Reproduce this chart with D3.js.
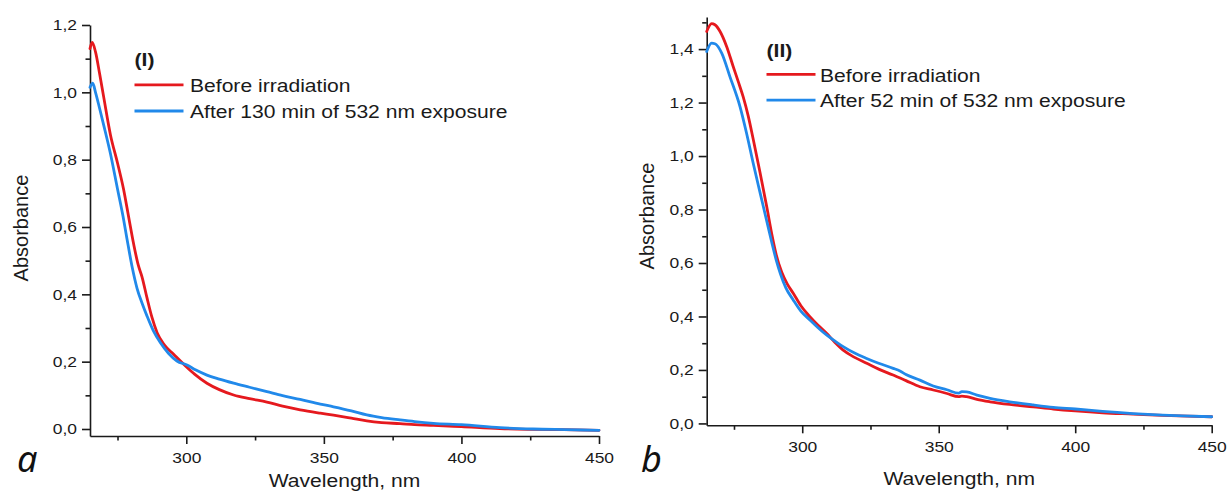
<!DOCTYPE html>
<html>
<head>
<meta charset="utf-8">
<script src="https://cdn.jsdelivr.net/npm/d3@7"></script>
<style>
  html, body { margin: 0; padding: 0; background: #fff; }
  svg { display: block; font-family: "Liberation Sans", Arial, sans-serif; }
</style>
</head>
<body>
<svg id="chart" width="1228" height="494"></svg>
<script>
// ---------- DATA ----------
const xMajorTicks = [300, 350, 400, 450];
const xMinorTicks = [275, 325, 375, 425];
const yMajorTicksI = [0, 0.2, 0.4, 0.6, 0.8, 1.0, 1.2];
const yMinorTicksI = [0.1, 0.3, 0.5, 0.7, 0.9, 1.1];
const yMajorTicksII = [0, 0.2, 0.4, 0.6, 0.8, 1.0, 1.2, 1.4];
const yMinorTicksII = [0.1, 0.3, 0.5, 0.7, 0.9, 1.1, 1.3, 1.5];

const legendI = ["Before irradiation", "After 130 min of 532 nm exposure"];
const legendII = ["Before irradiation", "After 52 min of 532 nm exposure"];

// Panel (I) – before irradiation (red)
const wlI_before = [265, 265.8, 267, 268.5, 270, 272.4, 275, 277.2, 279, 280.9, 282.5, 283.9, 285.7, 287.5, 289.4, 292, 295.4, 300, 303, 307.5, 312, 317.2, 323, 329.3, 335, 341.4, 348.7, 353.5, 360, 365.6, 371, 377.7, 383, 389.8, 400, 414, 425, 437, 450];
const absI_before = [1.13, 1.148, 1.12, 1.055, 0.985, 0.875, 0.79, 0.712, 0.632, 0.548, 0.488, 0.452, 0.39, 0.332, 0.286, 0.25, 0.222, 0.185, 0.163, 0.136, 0.117, 0.101, 0.09, 0.08, 0.068, 0.057, 0.047, 0.041, 0.032, 0.024, 0.019, 0.016, 0.013, 0.011, 0.007, 0.001, -0.001, -0.002, -0.004];
// Panel (I) – after 130 min (blue)
const wlI_after = [265, 266, 267, 268.5, 270, 272.4, 275, 277, 278.5, 280.3, 282.1, 284, 285.7, 288, 290.6, 293.5, 296.6, 300.25, 303.5, 307.5, 312, 317.2, 323, 329.3, 335, 341.4, 348.7, 353.5, 360, 365.6, 371, 377.7, 383, 389.8, 400, 414, 426, 438, 450];
const absI_after = [1.015, 1.027, 1.0, 0.952, 0.902, 0.819, 0.713, 0.632, 0.562, 0.482, 0.418, 0.372, 0.336, 0.292, 0.256, 0.225, 0.202, 0.19, 0.175, 0.16, 0.148, 0.136, 0.124, 0.111, 0.099, 0.088, 0.074, 0.066, 0.054, 0.042, 0.034, 0.027, 0.022, 0.017, 0.013, 0.004, 0.0, -0.002, -0.004];

// Panel (II) – before irradiation (red)
const wlII_before = [265, 266.8, 268, 269.9, 272.3, 274.7, 276.5, 278.4, 280.2, 282.1, 284.5, 287, 289, 290.5, 292.5, 294.5, 296.7, 299.5, 302.8, 305.8, 308.9, 312, 315, 319, 323.6, 328, 333.3, 338, 343.1, 348, 353, 357.3, 358.5, 360.2, 364, 368.8, 376, 384.6, 392, 400, 410, 421.2, 432, 441, 450];
const absII_before = [1.466, 1.495, 1.491, 1.466, 1.41, 1.335, 1.28, 1.22, 1.15, 1.06, 0.94, 0.81, 0.70, 0.63, 0.565, 0.522, 0.487, 0.44, 0.399, 0.367, 0.337, 0.303, 0.274, 0.248, 0.225, 0.203, 0.181, 0.16, 0.137, 0.125, 0.112, 0.1, 0.102, 0.1, 0.09, 0.081, 0.071, 0.062, 0.054, 0.047, 0.04, 0.035, 0.03, 0.027, 0.025];
// Panel (II) – after 52 min (blue)
const wlII_after = [265, 266.8, 268, 270.5, 273.5, 277.2, 279.5, 282.1, 284.5, 286, 287.5, 289, 290.5, 292, 294, 296.7, 299.5, 302.8, 305.8, 308.9, 312, 315, 319, 323.6, 328, 333.3, 335.8, 338, 343.1, 348, 353, 357.3, 358.5, 360.2, 364, 368.8, 376, 384.6, 392, 400, 410, 421.2, 432, 439.5, 450];
const absII_after = [1.391, 1.422, 1.42, 1.385, 1.297, 1.185, 1.09, 0.97, 0.865, 0.8, 0.735, 0.67, 0.61, 0.56, 0.507, 0.462, 0.42, 0.387, 0.358, 0.331, 0.308, 0.287, 0.264, 0.243, 0.225, 0.206, 0.196, 0.183, 0.162, 0.14, 0.126, 0.113, 0.119, 0.118, 0.106, 0.094, 0.081, 0.069, 0.06, 0.054, 0.045, 0.037, 0.031, 0.028, 0.025];

// ---------- STYLE ----------
const RED = "#e5191e";
const BLUE = "#2189ea";
const INK = "#1a1a1a";
const STRETCH = 1.14;

const svg = d3.select("#chart");
const fmt = d => d3.format(".1f")(d).replace(".", ",");

function stretchText(sel) {
  sel.each(function() {
    const t = d3.select(this);
    const x = +t.attr("x") || 0;
    const y = +t.attr("y") || 0;
    t.attr("x", 0).attr("y", 0)
     .attr("transform", `translate(${x},${y}) scale(${STRETCH},1)`);
  });
}

function panel(cfg) {
  const x = d3.scaleLinear().domain([265, 450]).range([cfg.x0, cfg.x1]);
  const y = d3.scaleLinear().domain(cfg.yDomain).range([cfg.yBottom, cfg.yTop]);
  const g = svg.append("g");

  // minor ticks
  g.append("g").attr("transform", `translate(0,${cfg.yBottom})`)
    .call(d3.axisBottom(x).tickValues(xMinorTicks).tickSize(4.5).tickSizeOuter(0).tickFormat(""))
    .call(s => s.select(".domain").remove());
  g.append("g").attr("transform", `translate(${cfg.x0},0)`)
    .call(d3.axisLeft(y).tickValues(cfg.yMinor).tickSize(4.5).tickSizeOuter(0).tickFormat(""))
    .call(s => s.select(".domain").remove());

  // major axes
  const xa = g.append("g").attr("transform", `translate(0,${cfg.yBottom})`)
    .call(d3.axisBottom(x).tickValues(xMajorTicks).tickSize(8).tickPadding(8).tickSizeOuter(0).tickFormat(d3.format("d")));
  const ya = g.append("g").attr("transform", `translate(${cfg.x0},0)`)
    .call(d3.axisLeft(y).tickValues(cfg.yMajor).tickSize(8).tickPadding(3.4).tickSizeOuter(0).tickFormat(fmt));

  [xa, ya].forEach(a => {
    a.selectAll("path, line").attr("stroke", INK).attr("stroke-width", 1.6);
    a.selectAll("text").attr("font-size", 15.3).attr("fill", INK)
      .attr("font-family", "Liberation Sans, Arial, sans-serif");
  });
  g.selectAll("line").attr("stroke", INK).attr("stroke-width", 1.6);
  ya.selectAll("text").attr("transform", `scale(${STRETCH},1)`);
  xa.selectAll("text").attr("transform", `scale(${STRETCH},1)`);

  // curves
  const line = d3.line().x(d => x(d[0])).y(d => y(d[1])).curve(d3.curveMonotoneX);
  cfg.series.forEach(s => {
    const pts = s.wl.map((w, i) => [w, s.abs[i]]);
    g.append("path").datum(pts).attr("d", line)
      .attr("fill", "none").attr("stroke", s.color).attr("stroke-width", 2.8)
      .attr("stroke-linejoin", "round").attr("stroke-linecap", "round");
  });

  // legend
  const lg = g.append("g");
  lg.append("text").attr("x", cfg.leg.x).attr("y", cfg.leg.titleY)
    .attr("font-size", 18.5).attr("font-weight", "bold").attr("fill", INK).text(cfg.leg.title);
  cfg.series.forEach((s, i) => {
    const ly = cfg.leg.lineY[i];
    lg.append("line").attr("x1", cfg.leg.x).attr("x2", cfg.leg.x + 49)
      .attr("y1", ly).attr("y2", ly).attr("stroke", s.color).attr("stroke-width", 2.8);
    lg.append("text").attr("x", cfg.leg.textX).attr("y", ly + 7.2)
      .attr("font-size", 18.5).attr("fill", INK).text(s.label);
  });
  stretchText(lg.selectAll("text"));

  // axis titles
  const xt = g.append("text").attr("x", (cfg.x0 + cfg.x1) / 2).attr("y", cfg.xTitleY)
    .attr("text-anchor", "middle").attr("font-size", 18.5).attr("fill", INK).text("Wavelength, nm");
  stretchText(xt);
  g.append("text")
    .attr("transform", `translate(${cfg.yTitleX},${cfg.yTitleCY}) rotate(-90)`)
    .attr("text-anchor", "middle").attr("font-size", 20).attr("fill", INK).text("Absorbance");

  // panel letter
  g.append("text").attr("x", cfg.letterX).attr("y", 471.5)
    .attr("font-family", "'Noto Sans', 'Open Sans', sans-serif").attr("font-style", "italic")
    .attr("font-size", 36).attr("fill", "#111").text(cfg.letter);
}

panel({
  x0: 90, x1: 599, yBottom: 436, yTop: 25, yDomain: [-0.0208, 1.2],
  yMajor: yMajorTicksI, yMinor: yMinorTicksI,
  series: [
    { wl: wlI_before, abs: absI_before, color: RED, label: legendI[0] },
    { wl: wlI_after, abs: absI_after, color: BLUE, label: legendI[1] }
  ],
  leg: { title: "(I)", x: 134.5, titleY: 66, lineY: [84.8, 111], textX: 190 },
  xTitleY: 487, yTitleX: 28.3, yTitleCY: 228,
  letter: "a", letterX: 17
});

panel({
  x0: 706.7, x1: 1211.7, yBottom: 425.3, yTop: 17, yDomain: [-0.007, 1.52],
  yMajor: yMajorTicksII, yMinor: yMinorTicksII,
  series: [
    { wl: wlII_before, abs: absII_before, color: RED, label: legendII[0] },
    { wl: wlII_after, abs: absII_after, color: BLUE, label: legendII[1] }
  ],
  leg: { title: "(II)", x: 766.5, titleY: 56.8, lineY: [74.3, 100.2], textX: 820 },
  xTitleY: 485, yTitleX: 653.5, yTitleCY: 216,
  letter: "b", letterX: 641
});
</script>
</body>
</html>
